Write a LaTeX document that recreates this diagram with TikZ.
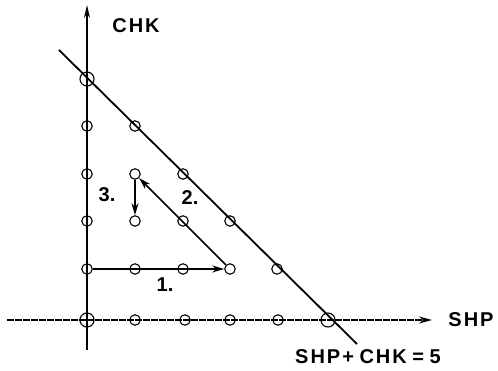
\documentclass[tikz,border=0pt]{standalone}
\usepackage{fontspec}
\newfontfamily\labfont[LetterSpace=10]{Liberation Sans}
\newfontfamily\numfont{Liberation Sans}
\usetikzlibrary{arrows.meta}
\begin{document}
\begin{tikzpicture}[x=1pt,y=-1pt,
  pt/.style={circle,draw,line width=1.1pt,inner sep=0pt,minimum size=10.5pt},
  bigpt/.style={circle,draw,line width=1.1pt,inner sep=0pt,minimum size=14pt},
  axisline/.style={line width=1.8pt},
  haxis/.style={line width=1.3pt,dash pattern=on 7pt off 1pt},
  diag/.style={line width=1.8pt},
  movearrow/.style={line width=1.6pt,-{Stealth[length=12pt,width=7pt]}},
  lab/.style={font=\labfont\bfseries\fontsize{20}{20}\selectfont,inner sep=0pt},
  num/.style={font=\numfont\bfseries\fontsize{20}{20}\selectfont,inner sep=0pt}]
\useasboundingbox (0,0) rectangle (498,371);
% axes end points
\coordinate (ybot) at (87,350);
\coordinate (ytop) at (87,5);
\coordinate (xleft) at (7,320);
\coordinate (xright) at (432,320);
\coordinate (dtop) at (59,50);
\coordinate (dbot) at (357,344);
% grid points
\node[bigpt] (p00) at (87,320) {};
\node[pt] (p10) at (135,320) {};
\node[pt] (p20) at (185,320) {};
\node[pt] (p30) at (230,320) {};
\node[pt] (p40) at (278,320) {};
\node[bigpt] (p50) at (328,320) {};
\node[pt] (p01) at (87,269) {};
\node[pt] (p02) at (87,221) {};
\node[pt] (p03) at (87,174) {};
\node[pt] (p04) at (87,126) {};
\node[bigpt] (p05) at (87,79) {};
\node[pt] (p14) at (135,126) {};
\node[pt] (p23) at (183,174) {};
\node[pt] (p32) at (230,221) {};
\node[pt] (p41) at (277,269) {};
\node[pt] (p11) at (135,269) {};
\node[pt] (p21) at (183,269) {};
\node[pt] (p31) at (230,269) {};
\node[pt] (p12) at (135,221) {};
\node[pt] (p22) at (183,221) {};
\node[pt] (p13) at (135,174) {};
% axes
\draw[axisline,-{Stealth[length=13pt,width=6pt]}] (ybot) -- (ytop);
\draw[haxis,-{Stealth[length=13pt,width=7pt]}] (xleft) -- (xright);
\draw[diag] (dtop) -- (dbot);
% moves
\draw[movearrow] (p01) -- (p31);
\draw[movearrow] (p31) -- (p13);
\draw[movearrow] (p13) -- (p12);
% labels
\node[lab] (chk) at (136,26) {CHK};
\node[lab] (shp) at (471,320) {SHP};
\node[lab] (eq) at (368,357) {SHP+\;CHK\;=\;5};
\node[num] (n1) at (165,285) {1.};
\node[num] (n2) at (190,198) {2.};
\node[num] (n3) at (107,195) {3.};
\end{tikzpicture}
\end{document}
